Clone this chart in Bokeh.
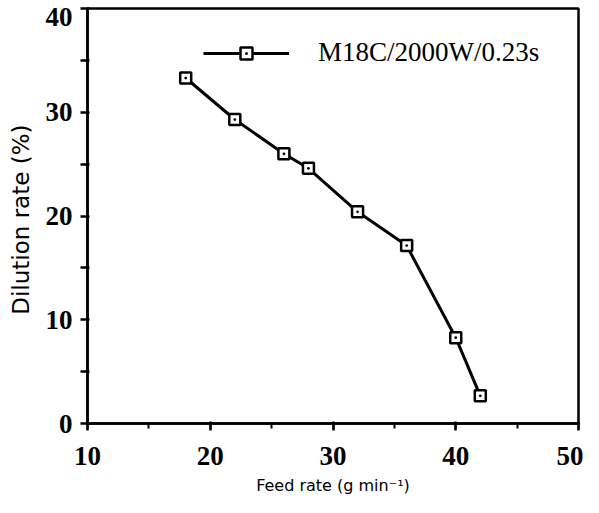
from bokeh.plotting import figure
from bokeh.models import Range1d, SingleIntervalTicker, FixedTicker, Legend, LegendItem
from bokeh.embed import file_html
from bokeh.resources import INLINE

feed_rate = [18, 22, 26, 28, 32, 36, 40, 42]
dilution_rate = [33.3, 29.3, 26.0, 24.6, 20.4, 17.15, 8.27, 2.67]
series_label = "M18C/2000W/0.23s"
x_label = "Feed rate (g min\u207b\u00b9)"
y_label = "Dilution rate  (%)"
y_tick_values = [0, 10, 20, 30, 40]
y_minor_values = [0, 5, 10, 15, 20, 25, 30, 35, 40]

p = figure(width=583, height=497, output_backend="svg", toolbar_location=None,
           x_range=Range1d(10, 50), y_range=Range1d(0, 40),
           min_border_left=87, min_border_right=5, min_border_top=8, min_border_bottom=74)
p.background_fill_color = "white"
p.border_fill_color = "white"
p.outline_line_color = "black"
p.outline_line_width = 2.5
p.xgrid.visible = False
p.ygrid.visible = False

tick_font = "Liberation Serif"
tick_size = "27px"
for ax in (p.xaxis[0], p.yaxis[0]):
    ax.axis_line_width = 2.5
    ax.axis_line_color = "black"
    ax.major_tick_line_width = 2.5
    ax.major_tick_line_color = "black"
    ax.minor_tick_line_width = 2
    ax.minor_tick_line_color = "black"
    ax.major_tick_in = 2
    ax.major_tick_out = 7
    ax.minor_tick_in = 0
    ax.minor_tick_out = 5
    ax.major_label_text_font = tick_font
    ax.major_label_text_font_style = "bold"
    ax.major_label_text_font_size = tick_size
    ax.major_label_text_color = "black"
    ax.axis_label_text_font = "DejaVu Sans"
    ax.axis_label_text_font_style = "normal"
    ax.axis_label_text_color = "black"

p.xaxis.ticker = SingleIntervalTicker(interval=10, num_minor_ticks=2)

# y axis: the top label "40" sits just below its tick in the original, so the
# label positions are given separately and all tick marks are drawn as minor ticks
top_label_pos = 39.2
label_positions = y_tick_values[:-1] + [top_label_pos]
p.yaxis.ticker = FixedTicker(ticks=label_positions, minor_ticks=y_minor_values)
p.yaxis.major_label_overrides = {top_label_pos: str(y_tick_values[-1])}
p.yaxis.major_tick_line_color = None
p.yaxis.major_tick_out = 7
p.yaxis.minor_tick_in = 2
p.yaxis.minor_tick_out = 7
p.yaxis.minor_tick_line_width = 2.5

p.xaxis.axis_label = x_label
p.yaxis.axis_label = y_label
p.xaxis.axis_label_text_font_size = "16px"
p.yaxis.axis_label_text_font_size = "23px"
p.xaxis.major_label_standoff = 16
p.yaxis.major_label_standoff = 8
p.xaxis.axis_label_standoff = 8
p.yaxis.axis_label_standoff = 9

ln = p.line(feed_rate, dilution_rate, line_color="black", line_width=3)
sc = p.scatter(feed_rate, dilution_rate, marker="square_dot", size=11,
               line_color="black", line_width=2.5, fill_color="white")

legend = Legend(items=[LegendItem(label=series_label, renderers=[ln, sc])],
                location=(116, 355), orientation="vertical",
                glyph_width=86, glyph_height=30, label_standoff=29,
                padding=0, margin=0, spacing=0,
                border_line_color=None, background_fill_alpha=0,
                label_text_font="Liberation Serif", label_text_font_size="27px",
                label_text_color="black", label_height=30)
p.add_layout(legend)

open("out.html", "w").write(file_html(p, INLINE))
